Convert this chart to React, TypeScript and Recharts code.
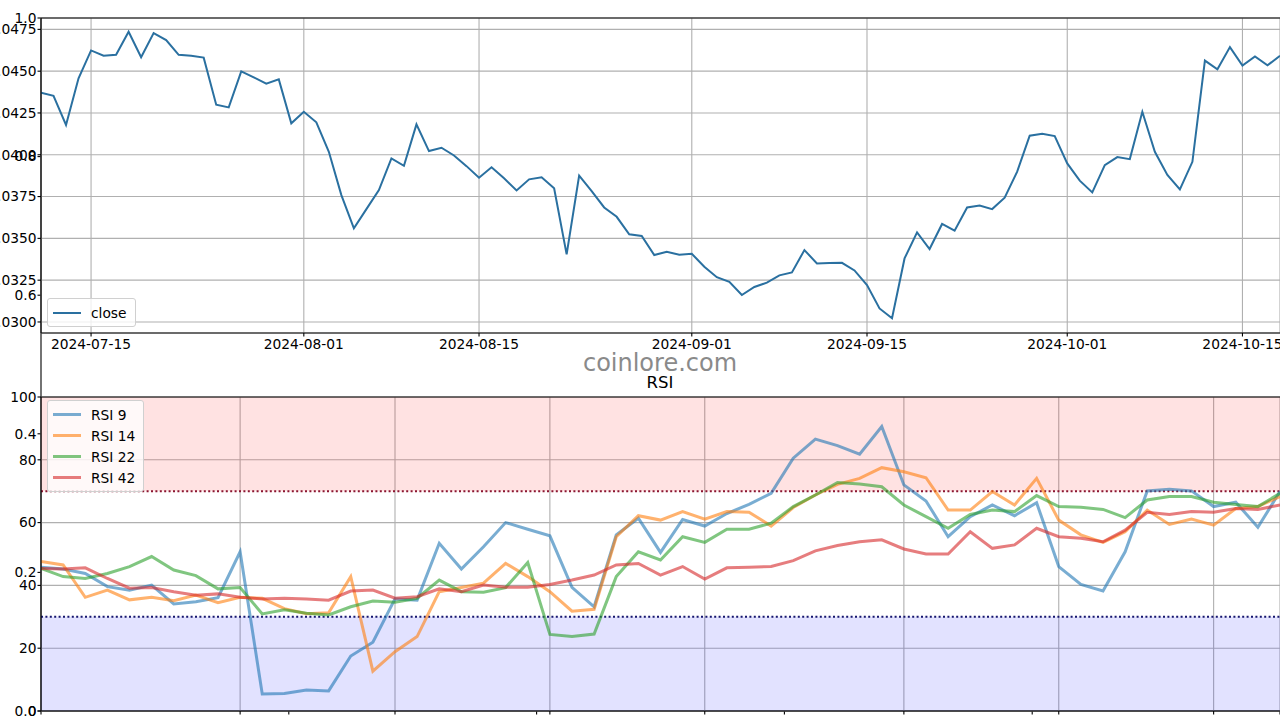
import React from 'react';
import {
  LineChart, Line, XAxis, YAxis, CartesianGrid, ReferenceLine, ReferenceArea,
} from 'recharts';

const FONT = '"DejaVu Sans", sans-serif';
const FS = 13.8;

// daily close, starting 2024-07-11
const CLOSE_START = '2024-07-11';
const CLOSE = [
  0.04371, 0.04353, 0.04178, 0.04457, 0.04624, 0.04592, 0.04598, 0.04736, 0.04583, 0.04728,
  0.04686, 0.04598, 0.04592, 0.04581, 0.04299, 0.04283, 0.04499, 0.04463, 0.04425, 0.04451,
  0.04188, 0.04257, 0.04194, 0.04018, 0.03759, 0.03560, 0.03675, 0.03789, 0.03978, 0.03934,
  0.04182, 0.04022, 0.04042, 0.03996, 0.03932, 0.03863, 0.03925, 0.03859, 0.03787, 0.03853,
  0.03865, 0.03799, 0.03404, 0.03875, 0.03783, 0.03685, 0.03629, 0.03524, 0.03514, 0.03400,
  0.03420, 0.03402, 0.03408, 0.03330, 0.03268, 0.03240, 0.03161, 0.03209, 0.03235, 0.03279,
  0.03296, 0.03430, 0.03350, 0.03352, 0.03354, 0.03308, 0.03221, 0.03081, 0.03022, 0.03380,
  0.03536, 0.03436, 0.03586, 0.03546, 0.03685, 0.03697, 0.03675, 0.03743, 0.03899, 0.04114,
  0.04126, 0.04112, 0.03948, 0.03845, 0.03775, 0.03938, 0.03986, 0.03974, 0.04257, 0.04018,
  0.03879, 0.03793, 0.03958, 0.04563, 0.04511, 0.04644, 0.04533, 0.04588, 0.04535, 0.04592,
];
const CLOSE_TICKS = ['2024-07-15', '2024-08-01', '2024-08-15', '2024-09-01', '2024-09-15', '2024-10-01', '2024-10-15'];
const CLOSE_Y_TICKS = [0.03, 0.0325, 0.035, 0.0375, 0.04, 0.0425, 0.045, 0.0475];
const CLOSE_Y_DOMAIN = [0.02934, 0.04818];

// daily RSI, starting 2024-08-23
const RSI_START = '2024-08-23';
const RSI_9 = [
  45.8, 45.2, 43.8, 39.6, 38.5, 40.1, 34.1, 34.8, 36.1, 50.7,
  5.4, 5.6, 6.7, 6.4, 17.5, 21.9, 35.7, 35.3, 53.4, 45.2,
  52.3, 60.0, 57.9, 55.8, 39.4, 33.2, 56.1, 61.4, 50.5, 61.0,
  58.9, 62.9, 65.8, 69.3, 80.5, 86.6, 84.5, 81.8, 90.6, 72.0,
  66.9, 55.5, 61.9, 65.6, 62.2, 66.3, 46.0, 40.3, 38.2, 50.7,
  70.1, 70.6, 70.1, 65.1, 66.5, 58.5, 69.9,
];
const RSI_14 = [
  47.6, 46.5, 36.2, 38.5, 35.4, 36.2, 35.1, 36.9, 34.5, 36.2,
  35.9, 32.6, 31.0, 31.3, 42.8, 12.7, 18.9, 23.7, 38.0, 39.3,
  40.7, 47.0, 42.8, 38.0, 31.8, 32.4, 55.5, 62.2, 60.8, 63.5,
  61.1, 63.5, 63.3, 58.9, 64.8, 68.8, 72.2, 74.1, 77.5, 76.2,
  74.3, 64.0, 64.0, 69.9, 65.6, 74.1, 60.8, 56.1, 53.7, 57.1,
  64.0, 59.4, 61.1, 59.2, 64.5, 65.1, 68.3,
];
const RSI_22 = [
  45.4, 42.8, 42.2, 43.8, 46.0, 49.2, 44.9, 43.1, 38.9, 39.3,
  30.9, 32.2, 31.1, 30.6, 33.2, 35.0, 34.6, 35.9, 41.7, 38.0,
  37.8, 39.3, 47.3, 24.4, 23.7, 24.5, 42.8, 50.7, 48.1, 55.5,
  53.7, 57.9, 57.9, 59.8, 65.1, 68.8, 72.8, 72.3, 71.4, 65.6,
  61.9, 58.2, 62.6, 64.0, 63.5, 68.6, 65.1, 64.9, 64.2, 61.6,
  67.2, 68.3, 68.3, 66.5, 65.8, 65.1, 69.3,
];
const RSI_42 = [
  45.4, 45.2, 45.6, 42.2, 39.1, 39.3, 38.0, 36.9, 37.3, 36.2,
  35.7, 35.9, 35.7, 35.3, 38.2, 38.5, 35.9, 36.4, 38.9, 38.0,
  40.1, 39.4, 39.4, 40.3, 41.7, 43.3, 46.5, 47.0, 43.3, 46.0,
  42.0, 45.6, 45.8, 46.0, 47.9, 51.0, 52.7, 53.9, 54.5, 51.6,
  50.0, 50.0, 57.1, 51.8, 52.9, 58.2, 55.5, 55.0, 53.9, 57.6,
  63.3, 62.6, 63.5, 63.3, 64.5, 64.2, 65.6,
];
const RSI_TICKS = ['2024-09-01', '2024-09-08', '2024-09-15', '2024-09-22', '2024-10-01', '2024-10-08', '2024-10-15'];
const RSI_Y_TICKS = [0, 20, 40, 60, 80, 100];
const RSI_SERIES = [
  { key: 'rsi9', name: 'RSI 9', color: '#1f77b4', values: RSI_9 },
  { key: 'rsi14', name: 'RSI 14', color: '#ff7f0e', values: RSI_14 },
  { key: 'rsi22', name: 'RSI 22', color: '#2ca02c', values: RSI_22 },
  { key: 'rsi42', name: 'RSI 42', color: '#d62728', values: RSI_42 },
];

// the figure-wide 0..1 axes peeking out behind both panels
const FRAME_TICKS = [0, 0.2, 0.4, 0.6, 0.8, 1];

function dayLabels(start: string, n: number) {
  const t0 = Date.parse(start + 'T00:00:00Z');
  return Array.from({ length: n }, (_, i) => new Date(t0 + i * 86400000).toISOString().slice(0, 10));
}

const closeDates = dayLabels(CLOSE_START, CLOSE.length);
const closeRows = CLOSE.map((v, i) => ({ i, close: v }));

const rsiDates = dayLabels(RSI_START, RSI_9.length);
const rsiRows = RSI_9.map((_, i) => {
  const r: any = { i };
  RSI_SERIES.forEach(s => { r[s.key] = s.values[i]; });
  return r;
});

const frameRows = FRAME_TICKS.map(x => ({ x }));

const tick = { fill: '#000', fontSize: FS, fontFamily: FONT };
const axLine = { stroke: '#000', strokeWidth: 1.1 };
const tkLine = { stroke: '#000', strokeWidth: 1.1 };
const GRID = '#b0b0b0';
// bottom labels sit below the picture's edge in the original, only the tick marks show
const hidden = () => '';

const abs = { position: 'absolute' as const, left: 0, top: 0 };

function LegendBox({ left, top, items, lw, op }: any) {
  return (
    <div style={{
      position: 'absolute', left, top, background: 'rgba(255,255,255,0.8)',
      border: '1px solid #d0d0d0', borderRadius: 3, padding: '3px 8px 3px 5px',
      fontFamily: FONT, fontSize: FS, color: '#000',
    }}>
      {items.map((it: any) => (
        <div key={it.name} style={{ display: 'flex', alignItems: 'center', height: 21 }}>
          <span style={{ display: 'inline-block', width: 28, height: lw, background: it.color, opacity: op, marginRight: 10 }} />
          {it.name}
        </div>
      ))}
    </div>
  );
}

export default function App() {
  return (
    <div style={{ position: 'absolute', left: 0, top: 0, width: 1280, height: 720, overflow: 'hidden', background: '#fff' }}>
      {/* background 0..1 axes */}
      <div style={abs}>
        <LineChart width={1280} height={760} data={frameRows} margin={{ top: 18, right: 0, bottom: 19, left: 0 }}>
          <XAxis dataKey="x" type="number" domain={[0, 1]} ticks={FRAME_TICKS} interval={0} height={30}
            tickSize={3.5} tickMargin={2} axisLine={axLine} tickLine={tkLine} tick={tick}
            tickFormatter={hidden} />
          <YAxis dataKey="x" type="number" domain={[0, 1]} ticks={FRAME_TICKS} interval={0} width={41}
            tickSize={3.5} tickMargin={1} axisLine={axLine} tickLine={tkLine} tick={tick}
            tickFormatter={(v: number) => v.toFixed(1)} />
        </LineChart>
      </div>

      {/* close price */}
      <div style={abs}>
        <LineChart width={1280} height={380} data={closeRows} margin={{ top: 18, right: 0, bottom: 17, left: 0 }}>
          <CartesianGrid stroke={GRID} strokeWidth={1.1} />
          <XAxis dataKey="i" type="number" domain={[0, CLOSE.length - 1]} allowDataOverflow
            ticks={CLOSE_TICKS.map(d => closeDates.indexOf(d))} interval={0} height={30}
            tickSize={3.5} tickMargin={3} axisLine={axLine} tickLine={tkLine} tick={tick}
            tickFormatter={(i: number) => closeDates[i]} />
          <YAxis type="number" domain={CLOSE_Y_DOMAIN} allowDataOverflow ticks={CLOSE_Y_TICKS} interval={0} width={41}
            tickSize={3.5} tickMargin={1} axisLine={axLine} tickLine={tkLine} tick={tick}
            tickFormatter={(v: number) => v.toFixed(4)} />
          <ReferenceLine y={CLOSE_Y_DOMAIN[1]} stroke="#000" strokeWidth={1.1} />
          <Line type="linear" dataKey="close" stroke="#2a70a0" strokeWidth={2} dot={false} isAnimationActive={false} />
        </LineChart>
      </div>

      {/* RSI */}
      <div style={abs}>
        <LineChart width={1280} height={760} data={rsiRows} margin={{ top: 397, right: 0, bottom: 19, left: 0 }}>
          <ReferenceArea y1={70} y2={100} fill="#ff0000" fillOpacity={0.115} stroke="none" ifOverflow="hidden" />
          <ReferenceArea y1={0} y2={30} fill="#0000ff" fillOpacity={0.115} stroke="none" ifOverflow="hidden" />
          <CartesianGrid stroke={GRID} strokeWidth={1.1} />
          <XAxis dataKey="i" type="number" domain={[0, RSI_9.length - 1]} allowDataOverflow
            ticks={RSI_TICKS.map(d => rsiDates.indexOf(d))} interval={0} height={30}
            tickSize={3.5} tickMargin={3} axisLine={axLine} tickLine={tkLine} tick={tick}
            tickFormatter={hidden} />
          <YAxis type="number" domain={[0, 100]} ticks={RSI_Y_TICKS} interval={0} width={41}
            tickSize={3.5} tickMargin={1} axisLine={axLine} tickLine={tkLine} tick={tick} />
          <ReferenceLine y={100} stroke="#000" strokeWidth={1.1} />
          <ReferenceLine y={70} stroke="#8b1530" strokeWidth={2} strokeDasharray="2 2.4" />
          <ReferenceLine y={30} stroke="#15156e" strokeWidth={2} strokeDasharray="2 2.4" />
          {RSI_SERIES.map(s => (
            <Line key={s.key} type="linear" dataKey={s.key} name={s.name} stroke={s.color} strokeWidth={3}
              strokeOpacity={0.6} dot={false} isAnimationActive={false} />
          ))}
        </LineChart>
      </div>

      <LegendBox left={47} top={298} lw={2} op={1} items={[{ name: 'close', color: '#2a70a0' }]} />
      <LegendBox left={47} top={400} lw={3.5} op={0.6} items={RSI_SERIES} />

      <div style={{ position: 'absolute', left: 460, width: 400, top: 348, textAlign: 'center', fontFamily: FONT, fontSize: 24, color: '#8a8a8a', lineHeight: '30px' }}>
        coinlore.com
      </div>
      <div style={{ position: 'absolute', left: 460, width: 400, top: 372, textAlign: 'center', fontFamily: FONT, fontSize: 16.5, color: '#000', lineHeight: '22px' }}>
        RSI
      </div>
    </div>
  );
}
